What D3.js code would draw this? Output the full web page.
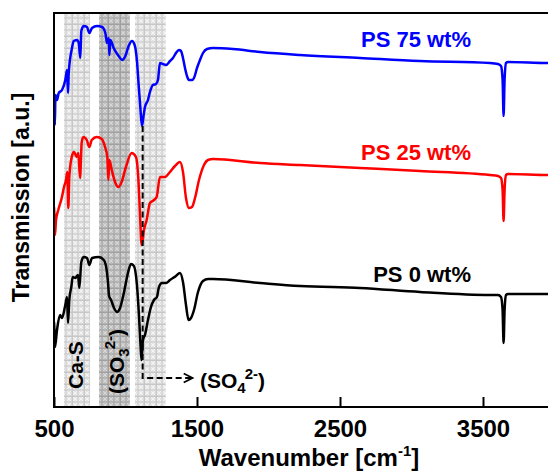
<!DOCTYPE html>
<html>
<head>
<meta charset="utf-8">
<script src="https://cdn.jsdelivr.net/npm/d3@7"></script>
<style>
  html, body { margin: 0; padding: 0; background: #fff; }
  svg { display: block; font-family: "Liberation Sans", Arial, sans-serif; font-weight: bold; }
</style>
</head>
<body>
<svg id="chart" width="548" height="472"></svg>
<script>
// FTIR spectra: [wavenumber (cm-1), transmission (a.u., offset per sample)]
const ps75 = [
  [500,300],[502,297],[506,282],[510,312],[521,307],[533,314],[556,317],[579,327],[591,337],[598,314],
  [603,334],[626,359],[638,366],[661,367],[673,364],[684,349],[691,376],[708,381],[731,380],[747,374],
  [766,379],[801,381],[836,380],[859,374],[871,364],[883,369],[887,352],[894,367],[917,359],[952,351],
  [976,347],[999,351],[1022,361],[1045,366],[1064,362],[1080,346],[1092,322],[1103,301],[1115,281],
  [1127,292],[1136,300],[1157,307],[1171,315],[1192,322],[1213,323],[1227,327],[1241,344],[1262,343],
  [1283,342],[1311,346],[1332,349],[1353,354],[1374,357],[1388,356],[1402,349],[1416,339],[1430,331],
  [1444,327],[1465,327],[1479,329],[1500,339],[1521,347],[1542,354],[1570,358],[1612,359],[1752,358],
  [1941,355],[2220,352],[2640,349],[3059,346],[3549,344],[3605,343],[3626,341],[3637,327],[3644,291],
  [3651,327],[3661,344],[3675,345],[3955,344],[4000,344]
];
const ps25 = [
  [500,200],[503,192],[507,172],[514,187],[530,197],[554,209],[570,220],[584,227],[593,235],[600,199],
  [607,230],[624,250],[640,255],[659,250],[670,254],[682,229],[694,265],[705,270],[729,267],[747,260],
  [764,267],[799,270],[834,268],[857,260],[873,250],[880,227],[887,247],[904,237],[927,225],[950,220],
  [973,225],[1003,240],[1043,254],[1073,250],[1089,230],[1101,194],[1113,162],[1129,177],[1148,187],
  [1171,204],[1199,207],[1218,210],[1241,230],[1276,230],[1311,235],[1346,241],[1381,245],[1402,235],
  [1423,209],[1444,199],[1465,200],[1486,209],[1514,227],[1549,242],[1577,247],[1612,248],[1941,244],
  [2220,242],[2640,239],[3059,236],[3549,232],[3605,231],[3626,229],[3637,217],[3644,186],[3651,217],
  [3661,232],[3675,233],[3955,232],[4000,232]
];
const ps0 = [
  [500,85],[503,77],[507,60],[521,77],[542,92],[556,89],[579,102],[591,110],[598,84],[607,107],
  [621,120],[631,130],[649,129],[668,132],[677,119],[691,145],[708,150],[731,149],[747,142],[766,149],
  [813,150],[848,147],[866,139],[878,124],[885,111],[899,107],[920,99],[941,95],[962,99],[990,115],
  [1017,134],[1038,143],[1059,141],[1080,122],[1094,92],[1105,62],[1112,47],[1122,67],[1136,72],
  [1157,87],[1178,100],[1199,107],[1220,110],[1234,120],[1255,124],[1283,124],[1311,127],[1353,131],
  [1381,134],[1402,125],[1423,102],[1441,87],[1458,89],[1479,97],[1507,115],[1542,126],[1577,128],
  [1612,128],[1941,124],[2220,121],[2640,119],[3059,115],[3549,112],[3605,112],[3626,110],[3637,97],
  [3644,64],[3651,97],[3661,112],[3675,113],[3955,113],[4000,113]
];

const seriesNames = ["PS 75 wt%", "PS 25 wt%", "PS 0 wt%"];
const seriesColors = ["#0000ff", "#ff0000", "#000000"];
const seriesData = [ps75, ps25, ps0];
const labelLevels = [360, 247, 125];

// Highlighted absorption regions (cm-1)
const bands = [
  { from: 570, to: 752, tone: "light" },
  { from: 815, to: 1031, tone: "dark" },
  { from: 1066, to: 1281, tone: "light" }
];

// Sulfate band position and the arrow that points to its label
const sulfatePeak = 1120;
const sulfateTop = 281;
const arrowLevel = 29;
const arrowEnd = 1470;

const tickValues = [500, 1500, 2500, 3500];
const tickLabels = ["500", "1500", "2500", "3500"];

const svg = d3.select("#chart");
const margin = { left: 54, top: 13, bottom: 407, right: 554.5 };

const x = d3.scaleLinear().domain([500, 4000]).range([margin.left, margin.right]);
const y = d3.scaleLinear().domain([0, 394]).range([margin.bottom, margin.top]);

const defs = svg.append("defs");

function makePattern(id, bg, cross, grid) {
  const p = defs.append("pattern")
    .attr("id", id).attr("width", 12).attr("height", 12)
    .attr("patternUnits", "userSpaceOnUse");
  p.append("rect").attr("width", 12).attr("height", 12).attr("fill", bg);
  [[3,3],[9,3],[3,9],[9,9]].forEach(([cx, cy]) => {
    p.append("path")
      .attr("d", `M${cx-2},${cy-2}L${cx+2},${cy+2}M${cx+2},${cy-2}L${cx-2},${cy+2}M${cx},${cy-2.4}L${cx},${cy+2.4}M${cx-2.4},${cy}L${cx+2.4},${cy}`)
      .attr("stroke", cross).attr("stroke-width", 1);
  });
  p.append("path").attr("d", "M0,0.5H12M0.5,0V12")
    .attr("stroke", grid).attr("stroke-width", 0.8);
}
makePattern("bandLight", "#d4d4d4", "#f4f4f4", "#c4c4c4");
makePattern("bandDark", "#afafaf", "#d6d6d6", "#9c9c9c");

defs.append("clipPath").attr("id", "plotClip")
  .append("rect")
  .attr("x", margin.left).attr("y", margin.top)
  .attr("width", margin.right - margin.left)
  .attr("height", margin.bottom - margin.top);

defs.append("marker")
  .attr("id", "openArrow").attr("viewBox", "0 0 12 12")
  .attr("refX", 11).attr("refY", 6)
  .attr("markerWidth", 12).attr("markerHeight", 12)
  .attr("markerUnits", "userSpaceOnUse").attr("orient", "auto")
  .append("path").attr("d", "M2,1.5L11,6L2,10.5")
  .attr("fill", "none").attr("stroke", "#000").attr("stroke-width", 1.8);

// Shaded regions
svg.append("g").selectAll("rect").data(bands).join("rect")
  .attr("x", d => x(d.from))
  .attr("width", d => x(d.to) - x(d.from))
  .attr("y", margin.top)
  .attr("height", margin.bottom - margin.top)
  .attr("fill", d => d.tone === "dark" ? "url(#bandDark)" : "url(#bandLight)");

// Spectra
const line = d3.line()
  .x(d => x(d[0])).y(d => y(d[1]))
  .curve(d3.curveMonotoneX);

const plot = svg.append("g").attr("clip-path", "url(#plotClip)");
plot.selectAll("path.spectrum").data(seriesData).join("path")
  .attr("class", "spectrum")
  .attr("d", line)
  .attr("fill", "none")
  .attr("stroke", (d, i) => seriesColors[i])
  .attr("stroke-width", 2.5)
  .attr("stroke-linejoin", "round");

// Dashed guide to the sulfate label
svg.append("path")
  .attr("d", `M${x(sulfatePeak)},${y(sulfateTop)}V${y(arrowLevel)}H${x(arrowEnd)}`)
  .attr("fill", "none").attr("stroke", "#000")
  .attr("stroke-width", 2).attr("stroke-dasharray", "6,3.5")
  .attr("marker-end", "url(#openArrow)");

// Frame
svg.append("path")
  .attr("d", `M${margin.right + 10},${margin.top}H${margin.left}V${margin.bottom}H${margin.right + 10}`)
  .attr("fill", "none").attr("stroke", "#000").attr("stroke-width", 2);

// Bottom axis with inward ticks
const xAxis = d3.axisBottom(x)
  .tickValues(tickValues)
  .tickFormat((d, i) => tickLabels[i])
  .tickSizeInner(-10).tickSizeOuter(0).tickPadding(13);
const gx = svg.append("g").attr("transform", `translate(0,${margin.bottom})`).call(xAxis);
gx.select(".domain").remove();
gx.selectAll(".tick line").attr("stroke", "#000").attr("stroke-width", 2);
gx.selectAll(".tick text")
  .attr("fill", "#000").attr("font-size", 24)
  .attr("font-family", "Liberation Sans, Arial, sans-serif").attr("font-weight", "bold");

// Axis titles
const xTitle = svg.append("text")
  .attr("x", 309).attr("y", 466).attr("text-anchor", "middle")
  .attr("font-size", 24);
xTitle.append("tspan").text("Wavenumber [cm");
xTitle.append("tspan").attr("font-size", 15).attr("dy", -10).text("-1");
xTitle.append("tspan").attr("dy", 10).text("]");

svg.append("text")
  .attr("transform", "translate(29,197.5) rotate(-90)")
  .attr("text-anchor", "middle").attr("font-size", 23)
  .text("Transmission [a.u.]");

// Sample labels
svg.append("g").selectAll("text").data(seriesNames).join("text")
  .attr("x", 471).attr("y", (d, i) => y(labelLevels[i]))
  .attr("text-anchor", "end").attr("font-size", 22)
  .attr("fill", (d, i) => seriesColors[i])
  .text(d => d);

// Band labels
svg.append("text")
  .attr("transform", "translate(83,389) rotate(-90)")
  .attr("font-size", 21).text("Ca-S");

const so3 = svg.append("text")
  .attr("transform", "translate(124,394) rotate(-90)")
  .attr("font-size", 21);
so3.append("tspan").text("(SO");
so3.append("tspan").attr("font-size", 15).attr("dy", 5).text("3");
so3.append("tspan").attr("font-size", 15).attr("dy", -14).attr("dx", -1).text("2-");
so3.append("tspan").attr("dy", 9).text(")");

const so4 = svg.append("text")
  .attr("x", 200).attr("y", 388).attr("font-size", 21);
so4.append("tspan").text("(SO");
so4.append("tspan").attr("font-size", 15).attr("dy", 5).text("4");
so4.append("tspan").attr("font-size", 15).attr("dy", -14).attr("dx", -1).text("2-");
so4.append("tspan").attr("dy", 9).text(")");
</script>
</body>
</html>
